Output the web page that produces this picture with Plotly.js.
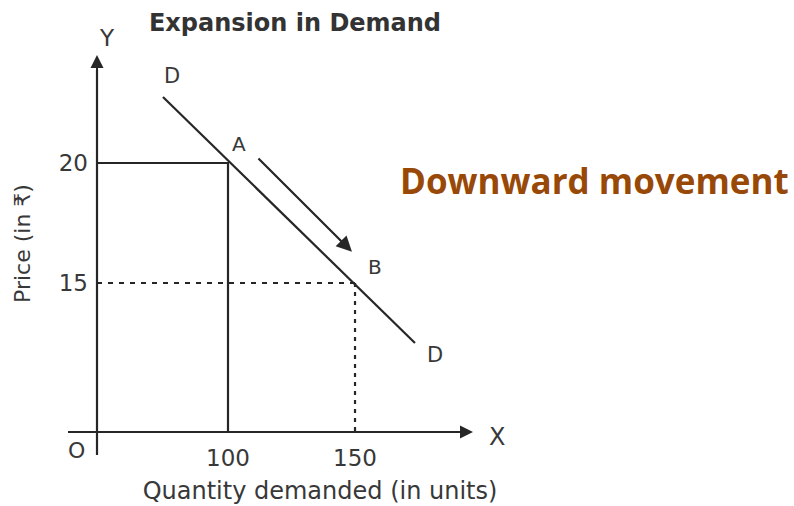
<!DOCTYPE html>
<html>
<head>
<meta charset="utf-8">
<script src="https://cdn.plot.ly/plotly-3.0.1.min.js"></script>
<style>html,body{margin:0;padding:0;background:#fff;}#chart{width:794px;height:506px;}</style>
</head>
<body>
<div id="chart"></div>
<script>
// ---- data ----
const quantity = [100, 150];          // Q at A and B
const price = [20, 15];               // P at A and B
const pointNames = ['A', 'B'];
const demandQty = [74.4, 173.6];      // demand curve DD end points
const demandPrice = [22.75, 12.5];
const moveFrom = [111.4, 20.25];      // arrow A -> B (qty, price)
const moveTo = [148.8, 16.3];
const xTickVals = [100, 150];
const xTickText = ['100', '150'];
const yTickVals = [15, 20];
const yTickText = ['15', '20'];
const originQty = 48.43;              // where the axes cross
const originPrice = 8.79;
const xMax = 224.0;
const yMax = 24.5;

const ink = '#262626';
const txt = '#383838';
const fam = 'DejaVu Sans, sans-serif';

const traces = [
  { x: [originQty, quantity[0], quantity[0]], y: [price[0], price[0], originPrice],
    mode: 'lines', line: { color: ink, width: 2.2 }, hoverinfo: 'skip' },
  { x: [originQty, quantity[1]], y: [price[1], price[1]],
    mode: 'lines', line: { color: ink, width: 2.2, dash: '5px,6px' }, hoverinfo: 'skip' },
  { x: [quantity[1], quantity[1]], y: [price[1], originPrice],
    mode: 'lines', line: { color: ink, width: 2.2, dash: '4px,5px' }, hoverinfo: 'skip' },
  { x: demandQty, y: demandPrice,
    mode: 'lines', line: { color: ink, width: 2.2 }, hoverinfo: 'skip' }
];

// plot area: left 97, right 543, top 55, bottom 432
const L = 97, R = 543, T = 55, B = 432;
const W = R - L, H = B - T;
const px2paperX = p => (p - L) / W;
const px2paperY = p => (B - p) / H;

const lab = (s) => ({ family: fam, size: s, color: txt });
const C = { xanchor: 'center', yanchor: 'middle', showarrow: false };

const annotations = [
  // arrow A -> B
  { x: moveTo[0], y: moveTo[1], ax: moveFrom[0], ay: moveFrom[1], xref: 'x', yref: 'y', axref: 'x', ayref: 'y',
    showarrow: true, arrowhead: 2, arrowsize: 1.4, arrowwidth: 2.2, arrowcolor: ink, text: '' },
  // point labels
  Object.assign({ x: quantity[0], y: price[0], xref: 'x', yref: 'y', text: pointNames[0], xshift: 11, yshift: 19, font: lab(20) }, C),
  Object.assign({ x: quantity[1], y: price[1], xref: 'x', yref: 'y', text: pointNames[1], xshift: 20, yshift: 16, font: lab(20) }, C),
  // D labels
  Object.assign({ x: demandQty[0], y: demandPrice[0], xref: 'x', yref: 'y', text: 'D', xshift: 9, yshift: 21, font: lab(21) }, C),
  Object.assign({ x: demandQty[1], y: demandPrice[1], xref: 'x', yref: 'y', text: 'D', xshift: 20, yshift: -12, font: lab(21) }, C),
  // axis arrowheads
  { x: 0, y: 1, xref: 'paper', yref: 'paper', ax: 0, ay: 22, showarrow: true, arrowhead: 2, arrowsize: 1.3, arrowwidth: 2, arrowcolor: ink, text: '' },
  { x: px2paperX(473), y: 0, xref: 'paper', yref: 'paper', ax: -22, ay: 0, showarrow: true, arrowhead: 2, arrowsize: 1.3, arrowwidth: 2, arrowcolor: ink, text: '' },
  // axis letters
  Object.assign({ x: px2paperX(107), y: px2paperY(38), xref: 'paper', yref: 'paper', text: 'Y', font: lab(23) }, C),
  Object.assign({ x: px2paperX(497), y: px2paperY(437), xref: 'paper', yref: 'paper', text: 'X', font: lab(24) }, C),
  Object.assign({ x: px2paperX(76), y: px2paperY(451), xref: 'paper', yref: 'paper', text: 'O', font: lab(22) }, C),
  // side note
  Object.assign({ x: px2paperX(594), y: px2paperY(180), xref: 'paper', yref: 'paper', text: '<b>Downward movement</b>',
    font: { family: 'Open Sans, sans-serif', size: 35, color: '#984807' } }, C)
];

const shapes = [
  { type: 'line', xref: 'paper', yref: 'paper', x0: 0, x1: 0, y0: px2paperY(455), y1: px2paperY(70), line: { color: ink, width: 2.2 } },
  { type: 'line', xref: 'paper', yref: 'paper', x0: px2paperX(68), x1: px2paperX(460), y0: 0, y1: 0, line: { color: ink, width: 2.2 } }
];

const layout = {
  width: 794, height: 506,
  margin: { l: L, r: 794 - R, t: T, b: 506 - B, pad: 0 },
  paper_bgcolor: '#fff', plot_bgcolor: 'rgba(0,0,0,0)',
  showlegend: false,
  title: { text: '<b>Expansion in Demand</b>', x: 295 / 794, xref: 'container', xanchor: 'center',
           y: 1 - 23 / 506, yref: 'container', yanchor: 'middle',
           font: { family: fam, size: 24, color: '#333' } },
  xaxis: {
    range: [originQty, xMax], showgrid: false, zeroline: false, showline: false,
    tickmode: 'array', tickvals: xTickVals, ticktext: xTickText, ticks: '', ticklabelstandoff: 10,
    tickfont: { family: fam, size: 23, color: txt },
    title: { text: 'Quantity demanded (in units)', standoff: 12, font: { family: fam, size: 24, color: txt } },
    fixedrange: true
  },
  yaxis: {
    range: [originPrice, yMax], showgrid: false, zeroline: false, showline: false,
    tickmode: 'array', tickvals: yTickVals, ticktext: yTickText, ticks: '', ticklabelstandoff: 8,
    tickfont: { family: fam, size: 23, color: txt },
    title: { text: 'Price (in ₹)', standoff: 22, font: { family: fam, size: 22, color: txt } },
    fixedrange: true
  },
  annotations: annotations,
  shapes: shapes
};

Plotly.newPlot('chart', traces, layout, { staticPlot: true, displayModeBar: false });
</script>
</body>
</html>
